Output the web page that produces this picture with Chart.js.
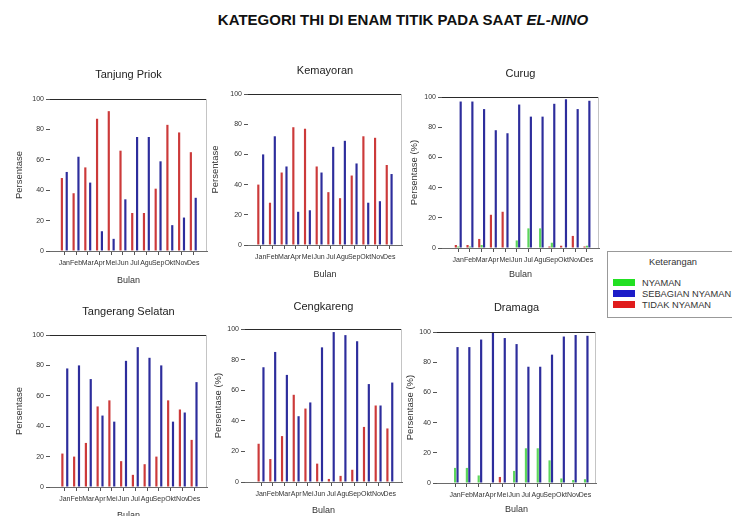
<!DOCTYPE html>
<html>
<head>
<meta charset="utf-8">
<script src="https://cdn.jsdelivr.net/npm/chart.js@4.4.1/dist/chart.umd.min.js"></script>
<style>
  html, body { margin: 0; padding: 0; background: #fff; width: 732px; height: 516px; overflow: hidden; }
  body { position: relative; font-family: "Liberation Sans", Arial, sans-serif; }
  #judul { position: absolute; left: 153px; width: 500px; top: 12px; line-height: 16px; text-align: center;
           font-weight: bold; font-size: 15px; color: #111; white-space: nowrap; }
  canvas { position: absolute; }
  #legenda { position: absolute; left: 607px; top: 251px; width: 132px; height: 67px;
             border: 1px solid #999; box-sizing: border-box; color: #333; font-size: 9.3px; }
  #legenda .kepala { position: absolute; left: 0; width: 130px; top: 5px; text-align: center; }
  #legenda .baris { position: absolute; left: 5px; height: 10px; line-height: 10px; white-space: nowrap; }
  #legenda .kotak { display: inline-block; width: 22px; height: 7px; vertical-align: middle; margin-right: 7px; position: relative; top: -1px; }
</style>
</head>
<body>
<div id="judul">KATEGORI THI DI ENAM TITIK PADA SAAT <i>EL-NINO</i></div>

<canvas id="c1"></canvas>
<canvas id="c2"></canvas>
<canvas id="c3"></canvas>
<canvas id="c4"></canvas>
<canvas id="c5"></canvas>
<canvas id="c6"></canvas>

<div id="legenda">
  <div class="kepala">Keterangan</div>
  <div class="baris" style="top:26px"><span class="kotak" style="background:#22e022"></span>NYAMAN</div>
  <div class="baris" style="top:37px"><span class="kotak" style="background:#1c1cc8"></span>SEBAGIAN NYAMAN</div>
  <div class="baris" style="top:48px"><span class="kotak" style="background:#e01c1c"></span>TIDAK NYAMAN</div>
</div>

<script>
// Bulan
const bulan = ['Jan','Feb','Mar','Apr','Mei','Jun','Jul','Agu','Sep','Okt','Nov','Des'];
const tickY = [0, 20, 40, 60, 80, 100];

// Persentase kategori THI per bulan (NYAMAN, SEBAGIAN NYAMAN, TIDAK NYAMAN)
const priokNyaman    = [0, 0, 0, 0, 0, 0, 0, 0, 0, 0, 0, 0];
const priokSebagian  = [52, 62, 45, 13, 8, 34, 75, 75, 59, 17, 22, 35];
const priokTidak     = [48, 38, 55, 87, 92, 66, 25, 25, 41, 83, 78, 65];

const kemayoranNyaman   = [0, 0, 0, 0, 0, 0, 0, 0, 0, 0, 0, 0];
const kemayoranSebagian = [60, 72, 52, 22, 23, 48, 65, 69, 54, 28, 29, 47];
const kemayoranTidak    = [40, 28, 48, 78, 77, 52, 35, 31, 46, 72, 71, 53];

const curugNyaman    = [1, 1, 2, 0, 0, 5, 13, 13, 3.5, 0, 0, 1.5];
const curugSebagian  = [97, 97, 92, 78, 76, 95, 87, 87, 95.5, 98.5, 92, 97.5];
const curugTidak     = [2, 2, 6, 22, 24, 0, 0, 0, 1, 1.5, 8, 1];

const tangselNyaman   = [0, 0, 0, 0, 0, 0, 0, 0, 0, 0, 0, 0];
const tangselSebagian = [78, 80, 71, 47, 43, 83, 92, 85, 80, 43, 49, 69];
const tangselTidak    = [22, 20, 29, 53, 57, 17, 8, 15, 20, 57, 51, 31];

const cengkarengNyaman   = [0, 0, 0, 0, 0, 0, 0, 0, 0, 0, 0, 0];
const cengkarengSebagian = [75, 85, 70, 43, 52, 88, 98, 96, 92, 64, 50, 65];
const cengkarengTidak    = [25, 15, 30, 57, 48, 12, 2, 4, 8, 36, 50, 35];

const dramagaNyaman   = [10, 10, 5, 0, 0, 8, 23, 23, 15, 3, 2, 2.5];
const dramagaSebagian = [90, 90, 95, 100, 96, 92, 77, 77, 85, 97, 98, 97.5];
const dramagaTidak    = [0, 0, 0, 0, 4, 0, 0, 0, 0, 0, 0, 0];

// Panel layout: plot box (L, R, T, B), title line, axis-title gaps, x range
const panels = [
  { id: 'c1', judul: 'Tanjung Priok',     labelY: 'Persentase',     L: 50,  R: 207, T: 99,  B: 251, judulY: 75,  gapY: 31, gapX: 30, xMin: -1.22, xMax: 12.17,
    nyaman: priokNyaman, sebagian: priokSebagian, tidak: priokTidak },
  { id: 'c2', judul: 'Kemayoran',         labelY: 'Persentase',     L: 248, R: 402, T: 94,  B: 245, judulY: 71,  gapY: 33, gapX: 30, xMin: -1.09, xMax: 12.1,
    nyaman: kemayoranNyaman, sebagian: kemayoranSebagian, tidak: kemayoranTidak },
  { id: 'c3', judul: 'Curug',             labelY: 'Persentase (%)', L: 442, R: 599, T: 97,  B: 248, judulY: 74,  gapY: 28, gapX: 27, xMin: -1.39, xMax: 12.03,
    nyaman: curugNyaman, sebagian: curugSebagian, tidak: curugTidak },
  { id: 'c4', judul: 'Tangerang Selatan', labelY: 'Persentase',     L: 50,  R: 207, T: 335, B: 487, judulY: 312, gapY: 31, gapX: 29, xMin: -1.26, xMax: 12.1,
    nyaman: tangselNyaman, sebagian: tangselSebagian, tidak: tangselTidak },
  { id: 'c5', judul: 'Cengkareng',        labelY: 'Persentase (%)', L: 245, R: 402, T: 329, B: 482, judulY: 307, gapY: 27, gapX: 29, xMin: -1.37, xMax: 12.04,
    nyaman: cengkarengNyaman, sebagian: cengkarengSebagian, tidak: cengkarengTidak },
  { id: 'c6', judul: 'Dramaga',           labelY: 'Persentase (%)', L: 437, R: 596, T: 332, B: 483, judulY: 308, gapY: 27, gapX: 27, xMin: -1.53, xMax: 11.93,
    nyaman: dramagaNyaman, sebagian: dramagaSebagian, tidak: dramagaTidak }
];

const KIRI = 50, ATAS = 40, KANAN = 8, BAWAH = 42;
const FONT = '"Liberation Sans", Arial, sans-serif';

// Panel title plus the top and right edges of the plot frame
const bingkai = {
  id: 'bingkai',
  afterDraw(chart, args, opts) {
    const { ctx, chartArea: a } = chart;
    ctx.save();
    ctx.lineWidth = 1;
    ctx.strokeStyle = '#2a2a2a';
    ctx.beginPath();
    ctx.moveTo(a.left, Math.round(a.top) + 0.5);
    ctx.lineTo(a.right, Math.round(a.top) + 0.5);
    ctx.stroke();
    ctx.strokeStyle = '#c4c4c4';
    ctx.beginPath();
    ctx.moveTo(Math.round(a.right) - 0.5, a.top);
    ctx.lineTo(Math.round(a.right) - 0.5, a.bottom);
    ctx.stroke();
    ctx.fillStyle = '#222';
    ctx.font = '11px ' + FONT;
    ctx.textAlign = 'center';
    ctx.textBaseline = 'middle';
    ctx.fillText(opts.judul, (a.left + a.right) / 2, opts.judulY);
    ctx.restore();
  }
};

const keTitik = arr => arr.map((v, i) => ({ x: i, y: v }));

panels.forEach(p => {
  const cv = document.getElementById(p.id);
  const w = (p.R - p.L) + KIRI + KANAN;
  const h = (p.B - p.T) + ATAS + BAWAH;
  cv.width = w; cv.height = h;
  cv.style.width = w + 'px'; cv.style.height = h + 'px';
  cv.style.left = (p.L - KIRI) + 'px';
  cv.style.top = (p.T - ATAS) + 'px';

  new Chart(cv, {
    type: 'bar',
    data: {
      datasets: [
        { label: 'TIDAK NYAMAN',    data: keTitik(p.tidak),    backgroundColor: '#cc3a3a' },
        { label: 'NYAMAN',          data: keTitik(p.nyaman),   backgroundColor: '#5cd65c' },
        { label: 'SEBAGIAN NYAMAN', data: keTitik(p.sebagian), backgroundColor: '#2d2d9c' }
      ]
    },
    options: {
      responsive: false,
      animation: false,
      devicePixelRatio: 1,
      categoryPercentage: 0.62,
      barPercentage: 0.9,
      layout: { padding: { left: 0, top: ATAS, right: KANAN, bottom: 0 } },
      plugins: {
        legend: { display: false },
        tooltip: { enabled: false },
        bingkai: { judul: p.judul, judulY: ATAS - (p.T - p.judulY) }
      },
      scales: {
        x: {
          type: 'linear',
          min: p.xMin,
          max: p.xMax,
          offset: false,
          afterBuildTicks: s => { s.ticks = bulan.map((b, i) => ({ value: i })); },
          afterFit: s => { s.height = BAWAH; },
          ticks: {
            autoSkip: false, maxRotation: 0, minRotation: 0, padding: 4,
            color: '#333', font: { family: FONT, size: 7 },
            callback: v => bulan[v]
          },
          grid: { offset: false, drawOnChartArea: false, drawTicks: true, tickLength: 4, color: '#555' },
          border: { display: true, color: '#6a6a6a' },
          title: {
            display: true, text: 'Bulan', color: '#333',
            font: { family: FONT, size: 9 },
            padding: { top: 0, bottom: BAWAH - p.gapX - 5.4 }
          }
        },
        y: {
          min: 0,
          max: 100,
          afterBuildTicks: s => { s.ticks = tickY.map(v => ({ value: v })); },
          afterFit: s => { s.width = KIRI; },
          ticks: { padding: 2, color: '#333', font: { family: FONT, size: 7 } },
          grid: { drawOnChartArea: false, drawTicks: true, tickLength: 4, color: '#555' },
          border: { display: false },
          title: {
            display: true, text: p.labelY, color: '#333',
            font: { family: FONT, size: 9.5 },
            padding: { top: KIRI - p.gapY - 5.7, bottom: 0 }
          }
        }
      }
    },
    plugins: [bingkai]
  });
});
</script>
</body>
</html>
